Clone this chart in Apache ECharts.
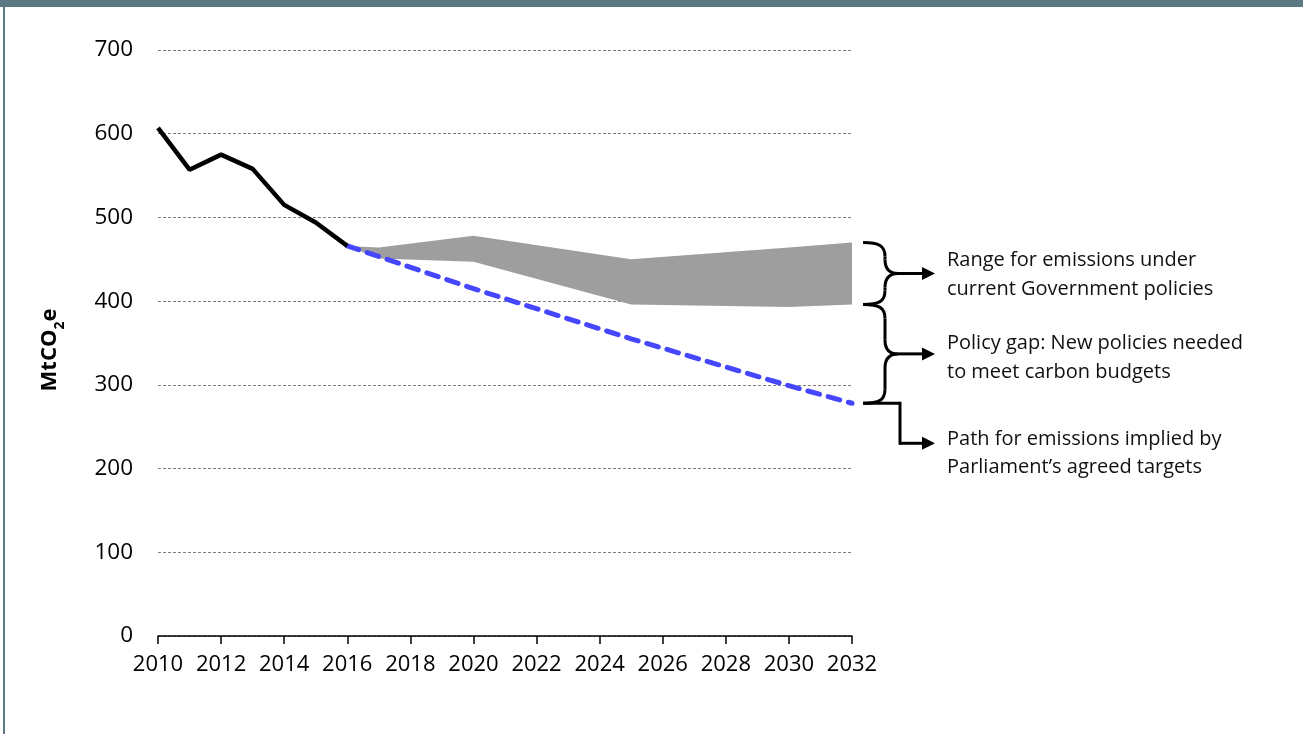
<!DOCTYPE html>
<html>
<head>
<meta charset="utf-8">
<script src="https://cdn.jsdelivr.net/npm/echarts@6/dist/echarts.min.js"></script>
<style>
html,body{margin:0;padding:0;background:#fff;}
#c{width:1303px;height:734px;}
</style>
</head>
<body>
<div id="c"></div>
<script>
// ---- data ----
const histYears = [2010, 2011, 2012, 2013, 2014, 2015, 2016];
const histValues = [607, 557, 575, 558, 515, 494, 466];
const pathYears = [2016, 2020, 2025, 2030, 2032];
const pathValues = [466, 415, 355, 299, 278];
const bandYears = [2016, 2017, 2020, 2025, 2030, 2032];
const bandLow = [466, 451, 447, 396, 393, 396];
const bandHigh = [466, 464, 478, 450, 464, 470];
const annotations = [
  ["Range for emissions under", "current Government policies"],
  ["Policy gap: New policies needed", "to meet carbon budgets"],
  ["Path for emissions implied by", "Parliament\u2019s agreed targets"]
];

const FONT = "'Open Sans', 'Noto Sans', sans-serif";
const chart = echarts.init(document.getElementById('c'));

const pairs = (xs, ys) => xs.map((x, i) => [x, ys[i]]);
const bandData = bandYears.map((x, i) => [x, bandLow[i], bandHigh[i]]);

chart.setOption({
  animation: false,
  backgroundColor: '#fff',
  grid: { left: 158, right: 451, top: 50, bottom: 98, containLabel: false },
  xAxis: {
    type: 'value', min: 2010, max: 2032, interval: 2,
    axisLine: { show: true, lineStyle: { color: '#000', width: 1.5 } },
    axisTick: { show: true, length: 8, lineStyle: { color: '#000', width: 1.5 } },
    axisLabel: { color: '#000', fontSize: 22, fontFamily: FONT, margin: 18, formatter: v => String(v) },
    splitLine: { show: false }
  },
  yAxis: {
    type: 'value', min: 0, max: 700, interval: 100,
    name: '{a|MtCO}{s|2}{a|e}',
    nameLocation: 'middle', nameGap: 97, nameRotate: 90,
    nameTextStyle: {
      padding: [0, 0, 0, -14],
      rich: {
        a: { fontSize: 22, fontWeight: 'bold', fontFamily: FONT, color: '#000', lineHeight: 26, verticalAlign: 'bottom' },
        s: { fontSize: 14, fontWeight: 'bold', fontFamily: FONT, color: '#000', lineHeight: 26, verticalAlign: 'bottom', padding: [0, 0, -6, 0] }
      }
    },
    axisLine: { show: false },
    axisTick: { show: false },
    axisLabel: { color: '#000', fontSize: 22.5, fontFamily: FONT, margin: 25 },
    splitLine: { show: true, lineStyle: { color: '#808080', width: 1, type: [3, 2] } }
  },
  series: [
    {
      type: 'custom', name: 'band', z: 1,
      data: bandData,
      encode: { x: 0, y: [1, 2] },
      renderItem: function (params, api) {
        if (params.dataIndex !== 0) return null;
        const lower = bandData.map(d => api.coord([d[0], d[1]]));
        const upper = bandData.map(d => api.coord([d[0], d[2]])).reverse();
        return {
          type: 'polygon', shape: { points: lower.concat(upper) },
          style: { fill: '#9e9e9e' }
        };
      }
    },
    {
      type: 'line', name: 'path', symbol: 'none',
      data: pairs(pathYears, pathValues),
      lineStyle: { color: '#4646ff', width: 5, type: [12, 9], cap: 'round' }, z: 3
    },
    {
      type: 'line', name: 'history', symbol: 'none',
      data: pairs(histYears, histValues),
      lineStyle: { color: '#000', width: 4.5 }, z: 4
    }
  ]
});

// ---- annotations (braces / arrows), anchored on the last data values ----
const px = v => chart.convertToPixel({ yAxisIndex: 0 }, v);
const yTop = px(bandHigh[bandHigh.length - 1]);
const yMid = px(bandLow[bandLow.length - 1]);
const yBot = px(pathValues[pathValues.length - 1]);
const x0 = 863, xs = 885, xc = 898, xa = 922, xt = 935;
const ST = { stroke: '#000', lineWidth: 3, fill: null };

function bez(a, b, c1, c2) {
  return { type: 'bezierCurve', shape: { x1: a[0], y1: a[1], x2: b[0], y2: b[1], cpx1: c1[0], cpy1: c1[1], cpx2: c2[0], cpy2: c2[1] }, style: ST };
}
function seg(a, b) {
  return { type: 'line', shape: { x1: a[0], y1: a[1], x2: b[0], y2: b[1] }, style: ST };
}
function brace(y0, y1) {
  const m = (y0 + y1) / 2;
  const c = Math.min(14, (y1 - y0) / 4);
  return [
    bez([x0, y0], [xs, y0 + c], [xs - 6, y0], [xs, y0 + 3]),
    seg([xs, y0 + c], [xs, m - c]),
    bez([xs, m - c], [xc, m], [xs, m - 3], [xs + 6, m]),
    bez([xc, m], [xs, m + c], [xs + 6, m], [xs, m + 3]),
    seg([xs, m + c], [xs, y1 - c]),
    bez([xs, y1 - c], [x0, y1], [xs, y1 - 3], [xs - 6, y1])
  ];
}
function head(y) {
  return { type: 'polygon', shape: { points: [[xa, y - 6.5], [xt, y], [xa, y + 6.5]] }, style: { fill: '#000' } };
}
const m1 = (yTop + yMid) / 2, m2 = (yMid + yBot) / 2, m3 = yBot + 40;
const txt = (t, y) => ({
  type: 'text', x: 947, y: y,
  style: { text: t, font: `20px ${FONT}`, fill: '#111', textVerticalAlign: 'middle', verticalAlign: 'middle' }
});

const g = [
  { type: 'rect', shape: { x: 0, y: 0, width: 1303, height: 7 }, style: { fill: '#5b7883' } },
  { type: 'rect', shape: { x: 3, y: 0, width: 2, height: 734 }, style: { fill: '#5b7883' } },
  ...brace(yTop, yMid),
  ...brace(yMid, yBot),
  seg([xc, m1], [xa + 1, m1]), head(m1),
  seg([xc, m2], [xa + 1, m2]), head(m2),
  seg([x0, yBot], [900, yBot]), seg([900, yBot - 1.5], [900, m3 + 1.5]), seg([900, m3], [xa + 1, m3]), head(m3),
  txt(annotations[0][0], m1 - 13), txt(annotations[0][1], m1 + 16),
  txt(annotations[1][0], m2 - 11), txt(annotations[1][1], m2 + 18),
  txt(annotations[2][0], m3 - 4), txt(annotations[2][1], m3 + 24)
];
chart.setOption({ graphic: g });
</script>
</body>
</html>
